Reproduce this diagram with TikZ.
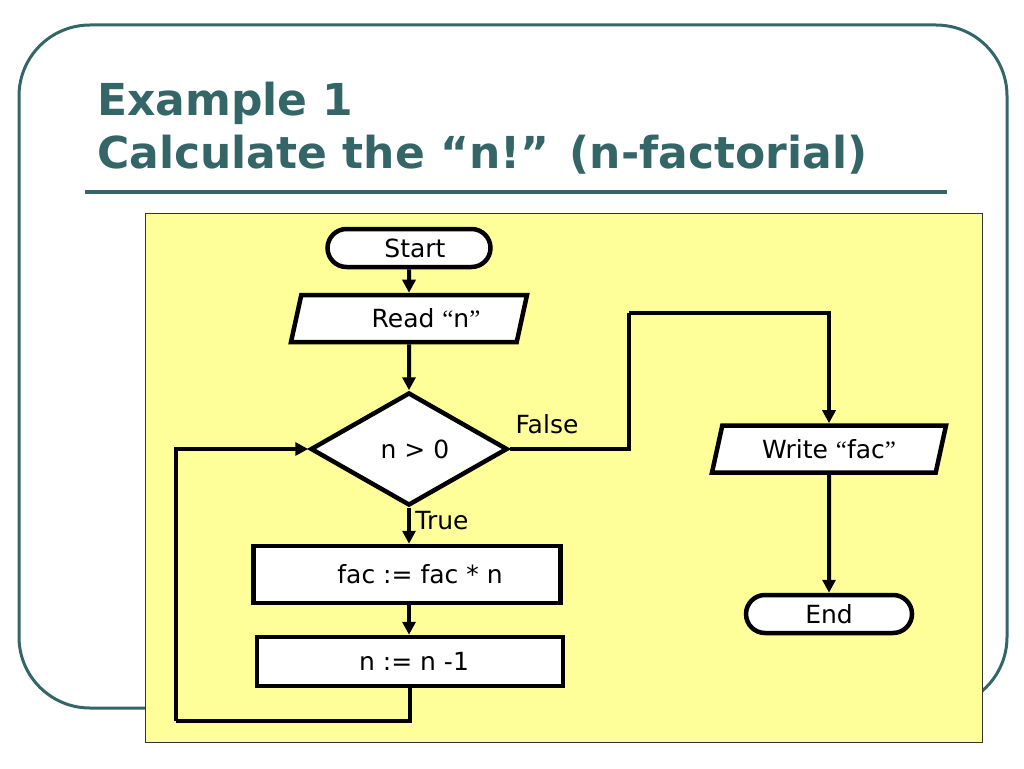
\documentclass[tikz,border=0pt]{standalone}
\usepackage{fontspec}
\setmainfont{DejaVu Sans}
\newfontfamily\qf{Liberation Serif}
\usetikzlibrary{arrows.meta,shapes.geometric}
\definecolor{teal1}{RGB}{52,102,104}
\definecolor{paleyellow}{RGB}{255,255,153}
\begin{document}
\begin{tikzpicture}[x=1pt,y=-1pt,
  box/.style={draw,line width=4.5pt,fill=white,font=\fontsize{25}{29}\selectfont,inner sep=0pt},
  term/.style={box,rectangle,rounded corners=19pt,minimum height=38pt},
  io/.style={box,trapezium,trapezium left angle=62,trapezium right angle=118,trapezium stretches body,minimum height=47pt},
  proc/.style={box,rectangle},
  decis/.style={box,diamond,minimum width=197pt,minimum height=113pt},
  conn/.style={line width=4pt,-{Triangle[length=13pt,width=13pt]}},
  wire/.style={line width=4pt},
  lbl/.style={font=\fontsize{25}{29}\selectfont,inner sep=0pt},
  ttl/.style={anchor=base west,text=teal1,font=\fontsize{44}{53}\selectfont\bfseries,inner sep=0pt}
]
\useasboundingbox (0,0) rectangle (1024,768);
% slide frame
\draw[teal1,line width=3pt,rounded corners=71pt] (19,25) rectangle (1007,708);
\node[ttl] (t1) at (97,115) {Example 1};
\node[ttl] (t2) at (97,168) {Calculate the “n!” (n-factorial)};
\draw[teal1,line width=4pt] (85,192) -- (947,192);
% yellow panel
\draw[fill=paleyellow,draw=black!80,line width=0.8pt] (145,213) rectangle (982,742);
% nodes
\node[term,minimum width=163pt] (start) at (409,248) {\hspace*{12pt}Start};
\node[io,minimum width=236pt] (read) at (409,318.5) {\hspace*{34pt}Read {\qf “}n{\qf ”}};
\node[decis] (dia) at (409,449) {\hspace*{12pt}n > 0};
\node[proc,minimum width=307pt,minimum height=57pt] (fac) at (407,574.5) {\hspace*{26pt}fac := fac * n};
\node[proc,minimum width=306pt,minimum height=49pt] (decn) at (410,661.5) {\hspace*{8pt}n := n -1};
\node[io,minimum width=234pt] (write) at (829,449) {Write {\qf “}fac{\qf ”}};
\node[term,minimum width=166pt] (end) at (829,614) {End};
% helper coordinates
\coordinate (loopc) at (176,721);
\coordinate (fc) at (629,313);
% connectors
\draw[conn] (start.south) -- (read.north);
\draw[conn] (read.south) -- (dia.north);
\draw[conn] (dia.south) -- (dia.south |- fac.north);
\draw[conn] (fac.south -| dia.south) -- (dia.south |- decn.north);
\draw[wire] (decn.south) |- (loopc);
\draw[conn] (loopc) |- (dia.west);
\draw[wire] (dia.east) -| (fc);
\draw[conn] (fc) -| (write.north);
\draw[conn] (write.south) -- (end.north);
% labels
\node[lbl] (ltrue) at (442,521) {True};
\node[lbl] (lfalse) at (547,424) {False};
\end{tikzpicture}
\end{document}
